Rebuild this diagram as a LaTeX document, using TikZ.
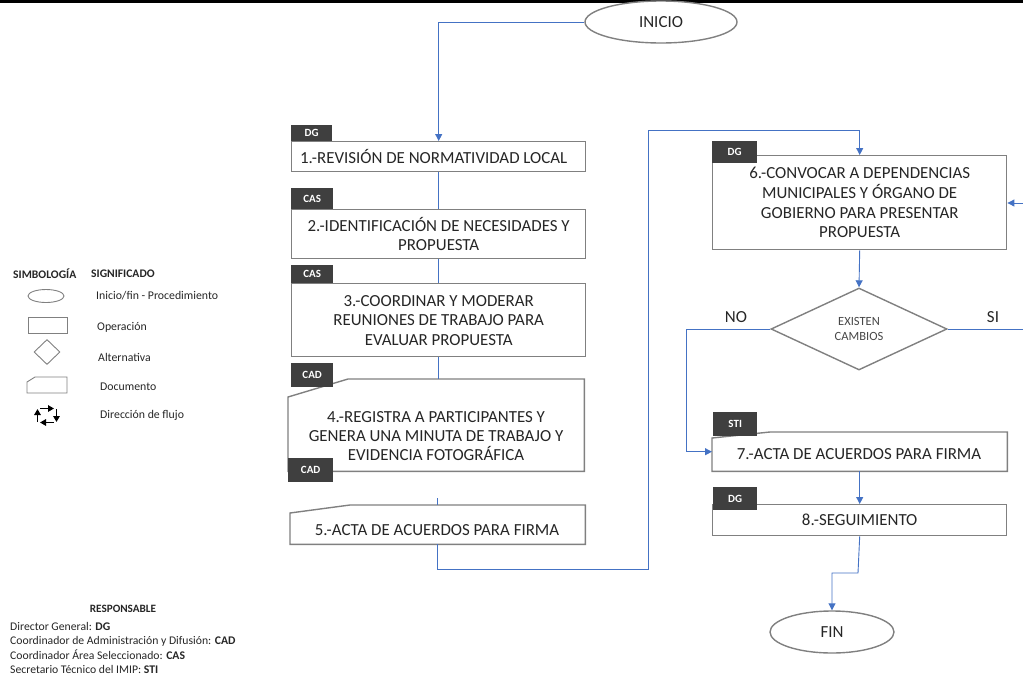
\documentclass[tikz,border=0pt]{standalone}
\usepackage{fontspec}
\setmainfont{Carlito}
\usetikzlibrary{shapes.geometric,arrows.meta,calc}
\definecolor{flowblue}{HTML}{4472C4}
\definecolor{edgegray}{HTML}{808080}
\definecolor{tagfill}{HTML}{3F3F3F}
\definecolor{ink}{HTML}{262626}
\begin{document}
\begin{tikzpicture}[x=1pt,y=-1pt,
  box/.style={draw=edgegray,line width=1.4pt,fill=white,inner sep=0pt,
    font=\fontsize{16.9}{19.6}\selectfont,text=ink,align=center,anchor=north west},
  ghost/.style={box,draw=none,fill=none},
  docline/.style={draw=edgegray,line width=1.4pt,fill=white},
  boxtext/.style={font=\fontsize{16.9}{19.2}\selectfont,text=ink,align=center,inner sep=0pt},
  tag/.style={fill=tagfill,text=white,inner sep=0pt,anchor=north west,
    font=\fontsize{11}{12}\selectfont\bfseries},
  term/.style={ellipse,draw=edgegray,line width=1.4pt,fill=white,inner sep=0pt,
    font=\fontsize{16.9}{19.5}\selectfont,text=ink},
  flow/.style={draw=flowblue,line width=0.9pt},
  flowarrow/.style={flow,-{Triangle[length=7pt,width=7pt]}},
  branch/.style={font=\fontsize{16.9}{19.5}\selectfont,text=ink},
  lgshape/.style={draw=edgegray,line width=0.9pt,inner sep=0pt},
  lgtext/.style={font=\fontsize{11.8}{13}\selectfont,text=ink,anchor=west,inner sep=0pt},
  lghead/.style={font=\fontsize{11.6}{13}\selectfont\bfseries,text=ink,anchor=west,inner sep=0pt},
  roletext/.style={font=\fontsize{11.7}{13}\selectfont,text=ink,anchor=base west,inner sep=0pt},
]
\useasboundingbox (0,0) rectangle (1023,683);

% top rule
\fill[black] (0,0) rectangle (1023,3);

% ---------- left column ----------
\node[term,minimum width=152,minimum height=42] (inicio) at (661,22) {INICIO};

\node[box,minimum width=294,minimum height=30] (b1) at (291,141) {1.-REVISIÓN DE NORMATIVIDAD LOCAL\hspace*{10pt}};
\node[box,minimum width=294,minimum height=49] (b2) at (291,209) {2.-IDENTIFICACIÓN DE NECESIDADES Y\\PROPUESTA};
\node[box,minimum width=294,minimum height=73] (b3) at (291,283) {3.-COORDINAR Y MODERAR\\REUNIONES DE TRABAJO PARA\\EVALUAR PROPUESTA};

% document boxes (cut top-left corner)
\node[ghost,minimum width=295,minimum height=91] (b4) at (288,379) {};
\path[docline] ($(b4.north west)+(60,0)$) -- (b4.north east) -- (b4.south east)
  -- (b4.south west) -- ($(b4.north west)+(0,18)$) -- cycle;
\node[boxtext] (b4t) at (436,436) {4.-REGISTRA A PARTICIPANTES Y\\GENERA UNA MINUTA DE TRABAJO Y\\EVIDENCIA FOTOGRÁFICA};

\node[ghost,minimum width=294,minimum height=38] (b5) at (290,505) {};
\path[docline] ($(b5.north west)+(60,0)$) -- (b5.north east) -- (b5.south east)
  -- (b5.south west) -- ($(b5.north west)+(0,8)$) -- cycle;
\node[boxtext] (b5t) at (437,530) {5.-ACTA DE ACUERDOS PARA FIRMA};

% ---------- right column ----------
\node[box,minimum width=294,minimum height=94] (b6) at (712,155) {6.-CONVOCAR A DEPENDENCIAS\\MUNICIPALES Y ÓRGANO DE\\GOBIERNO PARA PRESENTAR\\PROPUESTA};

\node[diamond,draw=edgegray,line width=1.4pt,fill=white,inner sep=0pt,
  minimum width=176,minimum height=82,align=center,text=ink!85,
  font=\fontsize{12.5}{15}\selectfont] (dec) at (859,329) {EXISTEN\\CAMBIOS};

\node[ghost,minimum width=294,minimum height=38] (b7) at (712,432) {};
\path[docline] ($(b7.north west)+(58,0)$) -- (b7.north east) -- (b7.south east)
  -- (b7.south west) -- ($(b7.north west)+(0,6)$) -- cycle;
\node[boxtext] (b7t) at (859,454) {7.-ACTA DE ACUERDOS PARA FIRMA};

\node[box,minimum width=294,minimum height=31] (b8) at (712,504) {8.-SEGUIMIENTO};

\node[term,minimum width=124,minimum height=42] (fin) at (832,632) {FIN};

% ---------- responsibility tags ----------
\node[tag,minimum width=41,minimum height=16] (t1) at (291,125) {DG};
\node[tag,minimum width=42,minimum height=21] (t2) at (291,188) {CAS};
\node[tag,minimum width=42,minimum height=18] (t3) at (291,265) {CAS};
\node[tag,minimum width=42,minimum height=24] (t4) at (291,363) {CAD};
\node[tag,minimum width=45,minimum height=24] (t4b) at (288,458) {CAD};
\node[tag,minimum width=45,minimum height=22] (t6) at (712,141) {DG};
\node[tag,minimum width=44,minimum height=24] (t7) at (713,412) {STI};
\node[tag,minimum width=44,minimum height=23] (t8) at (713,487) {DG};

% ---------- connectors ----------
\draw[flowarrow] (inicio.west) -| (b1.north);
\draw[flow] (b1.south) -- (b2.north);
\draw[flow] (b2.south) -- (b3.north);
\draw[flow] (b3.south) -- (b3.south |- b4.north);
\coordinate (c45) at (437,498);
\draw[flow] (c45) -- (c45 |- b5.north);

\coordinate (r1) at (648,569);
\coordinate (r2) at (648,130);
\draw[flowarrow] (b5.south) |- (r1) -- (r2) -| (b6.north);

\coordinate (back) at (1023,203);
\draw[flowarrow] (back) -- (back -| b6.east);

\draw[flowarrow] (b6.south) -- (dec.north);

\coordinate (noC) at (686,329);
\draw[flowarrow] (dec.west) -- (noC) |- (b7.west);
\coordinate (siC) at (1023,329);
\draw[flow] (dec.east) -- (siC);
\node[branch] (no) at (736,317) {NO};
\node[branch] (si) at (993,317) {SI};

\draw[flowarrow] (b7.south) -- (b8.north);
\coordinate (f1) at (858,573);
\draw[flowarrow] (b8.south) -- (f1) -| (fin.north);

% ---------- legend ----------
\node[lghead] (lh1) at (13,274) {SIMBOLOGÍA};
\node[lghead] (lh2) at (91,274) {SIGNIFICADO};

\node[lgshape,ellipse,minimum width=36,minimum height=13] (lgE) at (46,296) {};
\node[lgshape,minimum width=39,minimum height=16] (lgR) at (47.5,325) {};
\node[lgshape,diamond,minimum width=26,minimum height=25] (lgD) at (47,352) {};
\draw[draw=edgegray,line width=0.9pt] (35,377) -- (67,377) -- (67,393) -- (27,393) -- (27,382) -- cycle;
\begin{scope}[line width=1.4pt,-{Triangle[length=6pt,width=6.5pt]}]
  \draw (40,408.5) -- (54,408.5);
  \draw (56.5,409) -- (56.5,422);
  \draw (54,422.5) -- (40,422.5);
  \draw (37.5,422) -- (37.5,409);
\end{scope}

\node[lgtext] (l1) at (96,296) {Inicio/fin - Procedimiento};
\node[lgtext] (l2) at (97,327) {Operación};
\node[lgtext] (l3) at (98,357) {Alternativa};
\node[lgtext] (l4) at (100,387) {Documento};
\node[lgtext] (l5) at (100,415) {Dirección de flujo};

% ---------- responsible roles ----------
\node[font=\fontsize{11.2}{13}\selectfont\bfseries,text=ink] (resp) at (123,609) {RESPONSABLE};
\node[roletext] (r-dg)  at (10,630.5) {Director General: \textbf{DG}};
\node[roletext] (r-cad) at (10,644.8) {Coordinador de Administración y Difusión: \textbf{CAD}};
\node[roletext] (r-cas) at (10,659.1) {Coordinador Área Seleccionado: \textbf{CAS}};
\node[roletext] (r-sti) at (10,673.4) {Secretario Técnico del IMIP: \textbf{STI}};
\end{tikzpicture}
\end{document}
